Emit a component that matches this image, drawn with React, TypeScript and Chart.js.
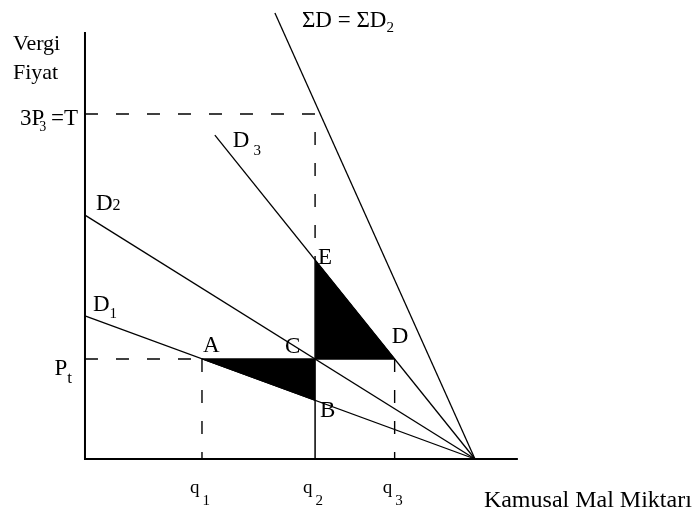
import { useEffect, useRef } from 'react';
import { Chart, registerables } from 'chart.js';

Chart.register(...registerables);

// Quantities of the public good (q1, q2, q3) and the saturation quantity
const quantityNames = ['1', '2', '3'];
const quantityValues = [30, 59, 79.4];
const Q_SATURATION = 100;
const X_AXIS_END = 111;
const Y_AXIS_TOP = 123.8;

// Tax price levels
const PRICE_PT = 29;
const PRICE_T = 100;

// Demand curves (start point -> saturation point)
const curveD1 = [{ x: 0, y: 41.5 }, { x: Q_SATURATION, y: 0 }];
const curveD2 = [{ x: 0, y: 70.7 }, { x: Q_SATURATION, y: 0 }];
const curveD3 = [{ x: 33.3, y: 93.9 }, { x: Q_SATURATION, y: 0 }];
const curveSum = [{ x: 48.7, y: 129.3 }, { x: Q_SATURATION, y: 0 }];

// Marked points
const pointNames = ['A', 'B', 'C', 'D', 'E'];
const pointX = [30, 59, 59, 79.4, 59];
const pointY = [29, 17, 29, 29, 57.7];

const FONT = "'Liberation Serif', 'Times New Roman', serif";
const MAIN = 23;
const SUB = 15;

type Part = { t: string; size?: number; dy?: number; dx?: number };
type Label = {
  parts: Part[];
  x: number;
  y: number;
  dx: number;
  dy: number;
  align: 'left' | 'right' | 'center';
};

const pt = (name: string) => {
  const i = pointNames.indexOf(name);
  return { x: pointX[i], y: pointY[i] };
};

const labels: Label[] = [
  { parts: [{ t: 'Vergi', size: 22 }], x: 0, y: Y_AXIS_TOP, dx: -72, dy: 18, align: 'left' },
  { parts: [{ t: 'Fiyat', size: 22 }], x: 0, y: Y_AXIS_TOP, dx: -72, dy: 47, align: 'left' },
  {
    parts: [{ t: '3P' }, { t: '3', size: 14, dy: 6, dx: -5 }, { t: ' =T', dx: -1 }],
    x: 0, y: PRICE_T, dx: -7, dy: 11, align: 'right',
  },
  {
    parts: [{ t: 'P' }, { t: 't', size: 17, dy: 8 }],
    x: 0, y: PRICE_PT, dx: -13, dy: 16, align: 'right',
  },
  { parts: [{ t: 'D' }, { t: '1', size: SUB, dy: 7 }], ...curveD1[0], dx: 8, dy: -5, align: 'left' },
  { parts: [{ t: 'D' }, { t: '2', size: 16, dy: 0 }], ...curveD2[0], dx: 11, dy: -5, align: 'left' },
  { parts: [{ t: 'D' }, { t: '3', size: SUB, dy: 8, dx: 4 }], ...curveD3[0], dx: 18, dy: 12, align: 'left' },
  {
    parts: [{ t: '\u03A3D = \u03A3D' }, { t: '2', size: SUB, dy: 5 }],
    ...curveSum[0], dx: 27, dy: 14, align: 'left',
  },
  { parts: [{ t: 'A' }], ...pt('A'), dx: 1, dy: -7, align: 'left' },
  { parts: [{ t: 'C' }], ...pt('C'), dx: -30, dy: -6, align: 'left' },
  { parts: [{ t: 'E' }], ...pt('E'), dx: 3, dy: 4, align: 'left' },
  { parts: [{ t: 'D' }], ...pt('D'), dx: -3, dy: -16, align: 'left' },
  { parts: [{ t: 'B' }], ...pt('B'), dx: 5, dy: 17, align: 'left' },
  ...quantityValues.map((q, i) => ({
    parts: [{ t: 'q', size: 19 }, { t: quantityNames[i], size: 15, dy: 12, dx: 3 }],
    x: q, y: 0, dx: -2, dy: 34, align: 'center' as const,
  })),
  { parts: [{ t: 'Kamusal Mal Miktar\u0131', size: 24 }], x: X_AXIS_END, y: 0, dx: -34, dy: 48, align: 'left' },
];

function drawParts(ctx: CanvasRenderingContext2D, parts: Part[], x: number, y: number, align: string) {
  const widths = parts.map((p) => {
    ctx.font = `${p.size ?? MAIN}px ${FONT}`;
    return ctx.measureText(p.t).width + (p.dx ?? 0);
  });
  const total = widths.reduce((a, b) => a + b, 0);
  let cx = align === 'right' ? x - total : align === 'center' ? x - total / 2 : x;
  parts.forEach((p, i) => {
    ctx.font = `${p.size ?? MAIN}px ${FONT}`;
    ctx.fillText(p.t, cx + (p.dx ?? 0), y + (p.dy ?? 0));
    cx += widths[i];
  });
}

const labelPlugin = {
  id: 'diagramLabels',
  afterDatasetsDraw(chart: Chart) {
    const { ctx } = chart;
    const sx = chart.scales.x;
    const sy = chart.scales.y;
    ctx.save();
    ctx.fillStyle = '#000';
    ctx.textBaseline = 'alphabetic';
    ctx.textAlign = 'left';
    for (const l of labels) {
      drawParts(ctx, l.parts, sx.getPixelForValue(l.x) + l.dx, sy.getPixelForValue(l.y) + l.dy, l.align);
    }
    ctx.restore();
  },
};

const DASH = [13, 18];

function line(data: { x: number; y: number }[], width: number, dash: number[] = []) {
  return {
    data,
    borderColor: '#000',
    borderWidth: width,
    borderDash: dash,
    pointRadius: 0,
    fill: false,
    showLine: true,
    tension: 0,
  };
}

export default function App() {
  const canvasRef = useRef<HTMLCanvasElement | null>(null);

  useEffect(() => {
    document.body.style.margin = '0';
    const canvas = canvasRef.current;
    if (!canvas) return;
    const A = pt('A');
    const B = pt('B');
    const C = pt('C');
    const D = pt('D');
    const E = pt('E');

    const chart = new Chart(canvas, {
      type: 'scatter',
      data: {
        datasets: [
          // axes
          line([{ x: 0, y: -0.3 }, { x: 0, y: Y_AXIS_TOP }], 2),
          line([{ x: 0, y: 0 }, { x: X_AXIS_END, y: 0 }], 2),
          // demand curves
          line(curveD1, 1.3),
          line(curveD2, 1.3),
          line(curveD3, 1.3),
          line(curveSum, 1.3),
          // guide lines
          line([{ x: 0, y: PRICE_T }, { x: C.x, y: PRICE_T }, { x: E.x, y: E.y }], 1.4, DASH),
          line([{ x: 0, y: PRICE_PT }, { x: A.x, y: PRICE_PT }], 1.4, DASH),
          line([{ x: A.x, y: A.y }, { x: A.x, y: 0 }], 1.4, DASH),
          line([{ x: D.x, y: D.y }, { x: D.x, y: 0 }], 1.4, DASH),
          line([{ x: A.x, y: A.y }, { x: D.x, y: D.y }], 1.5),
          line([{ x: E.x, y: E.y }, { x: E.x, y: 0 }], 1.5),
          // shaded triangles ABC and ECD
          {
            ...line([A, B], 1),
            fill: { value: PRICE_PT },
            backgroundColor: '#000',
          },
          {
            ...line([E, D], 1),
            fill: { value: C.y },
            backgroundColor: '#000',
          },
        ],
      },
      options: {
        animation: false,
        responsive: false,
        maintainAspectRatio: false,
        devicePixelRatio: 1,
        layout: { padding: 0 },
        plugins: {
          legend: { display: false },
          tooltip: { enabled: false },
        },
        scales: {
          x: { type: 'linear', display: false, min: -21.79, max: 156.67 },
          y: { type: 'linear', display: false, min: -15.94, max: 133.04 },
        },
      },
      plugins: [labelPlugin],
    });
    return () => chart.destroy();
  }, []);

  return (
    <div style={{ width: 696, height: 514 }}>
      <canvas ref={canvasRef} width={696} height={514} style={{ display: 'block' }} />
    </div>
  );
}
